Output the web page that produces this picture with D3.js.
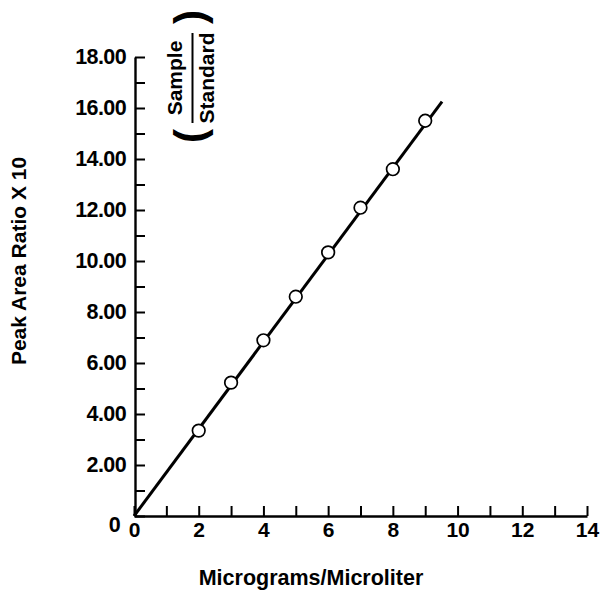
<!DOCTYPE html>
<html>
<head>
<meta charset="utf-8">
<script src="https://cdn.jsdelivr.net/npm/d3@7"></script>
<style>
  html, body { margin: 0; padding: 0; background: #fff; }
  svg { display: block; font-family: "Liberation Sans", Arial, Helvetica, sans-serif; font-weight: bold; }
</style>
</head>
<body>
<svg id="chart" width="600" height="590"></svg>
<script>
// ---- data ----
const concentrations = [2, 3, 4, 5, 6, 7, 8, 9];
const ratios = [3.35, 5.23, 6.89, 8.6, 10.34, 12.09, 13.6, 15.5];
const fitX = [0, 9.52];
const fitY = [0, 16.25];
const xTicks = d3.range(0, 15, 1);
const yTicks = d3.range(0, 19, 1);
const xTitle = "Micrograms/Microliter";
const yTitle = "Peak Area Ratio X 10";
const fracTop = "Sample";
const fracBottom = "Standard";

const svg = d3.select("#chart");
const x = d3.scaleLinear().domain([0, 14]).range([134, 587]);
const y = d3.scaleLinear().domain([0, 18]).range([516, 57]);
const FONT = "Liberation Sans, Arial, sans-serif";

// x axis
const xAxis = d3.axisBottom(x)
  .tickValues(xTicks)
  .tickSizeInner(-10)
  .tickSizeOuter(0)
  .tickPadding(6)
  .tickFormat(d => d % 2 === 0 ? String(d) : "");
const gx = svg.append("g").attr("transform", `translate(0,${y(0)})`).call(xAxis);
gx.select(".domain").attr("stroke", "#000").attr("stroke-width", 2.4);
gx.selectAll(".tick line").attr("stroke", "#000").attr("stroke-width", 2);
gx.selectAll(".tick text").attr("fill", "#000").attr("font-size", 21).attr("font-weight", "bold")
  .attr("font-family", FONT);

// y axis
const yAxis = d3.axisLeft(y)
  .tickValues(yTicks)
  .tickSizeInner(-10)
  .tickSizeOuter(0)
  .tickPadding(9)
  .tickFormat(d => d === 0 ? "0" : (d % 2 === 0 ? d.toFixed(2) : ""));
const gy = svg.append("g").attr("transform", `translate(${x(0) + 1},0)`).call(yAxis);
gy.select(".domain").attr("stroke", "#000").attr("stroke-width", 2.4);
gy.selectAll(".tick line").attr("stroke", "#000").attr("stroke-width", 2);
gy.selectAll(".tick text").attr("fill", "#000").attr("font-size", 21.5).attr("font-weight", "bold")
  .attr("font-family", FONT)
  .attr("letter-spacing", -0.6);
gy.selectAll(".tick").filter(d => d === 0).select("text").attr("dx", -6).attr("dy", "0.7em");

// fit line
const line = d3.line().x(d => x(d[0])).y(d => y(d[1]));
svg.append("path")
  .datum(fitX.map((v, i) => [v, fitY[i]]))
  .attr("d", line)
  .attr("fill", "none")
  .attr("stroke", "#000")
  .attr("stroke-width", 3);

// points
svg.append("g").selectAll("circle")
  .data(concentrations.map((v, i) => [v, ratios[i]]))
  .join("circle")
  .attr("cx", d => x(d[0]))
  .attr("cy", d => y(d[1]))
  .attr("r", 6.3)
  .attr("fill", "#fff")
  .attr("stroke", "#000")
  .attr("stroke-width", 1.7);

// axis titles
svg.append("text")
  .attr("x", 311).attr("y", 585)
  .attr("text-anchor", "middle")
  .attr("font-size", 21.5)
  .attr("fill", "#000")
  .text(xTitle);

svg.append("text")
  .attr("transform", `translate(26,261) rotate(-90)`)
  .attr("text-anchor", "middle")
  .attr("font-size", 21)
  .attr("fill", "#000")
  .text(yTitle);

// fraction annotation
const fr = svg.append("g").attr("transform", "translate(192.5,78) rotate(-90)");
fr.append("text").attr("x", 0).attr("y", -11).attr("text-anchor", "middle")
  .attr("font-size", 21).attr("fill", "#000").text(fracTop);
fr.append("line").attr("x1", -45).attr("x2", 45).attr("y1", 0).attr("y2", 0)
  .attr("stroke", "#000").attr("stroke-width", 2);
fr.append("text").attr("x", 0).attr("y", 21).attr("text-anchor", "middle")
  .attr("font-size", 21).attr("fill", "#000").text(fracBottom);
fr.append("text").attr("x", -58).attr("y", 11).attr("text-anchor", "middle")
  .attr("font-size", 42).attr("fill", "#000").text("(");
fr.append("text").attr("x", 61).attr("y", 11).attr("text-anchor", "middle")
  .attr("font-size", 42).attr("fill", "#000").text(")");
</script>
</body>
</html>
